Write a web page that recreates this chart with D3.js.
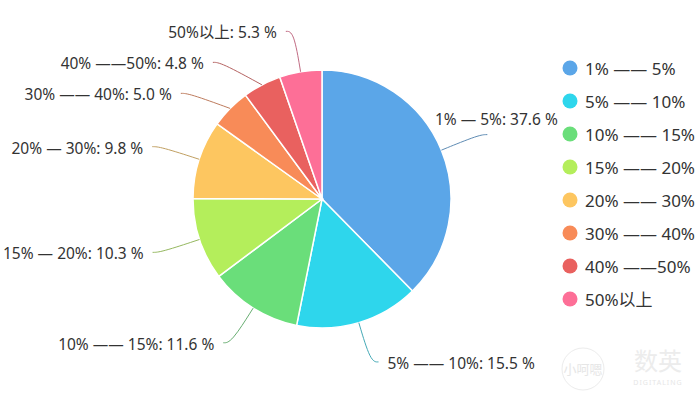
<!DOCTYPE html>
<html>
<head>
<meta charset="utf-8">
<script src="https://cdn.jsdelivr.net/npm/d3@7"></script>
<style>
  body { margin: 0; background: #fff; }
  svg { display: block; font-family: "Microsoft YaHei", "Noto Sans", "Noto Sans CJK SC", sans-serif; }
</style>
</head>
<body>
<svg id="chart" width="700" height="402"></svg>
<script>
const categories = ["1% —— 5%", "5% —— 10%", "10% —— 15%", "15% —— 20%", "20% —— 30%", "30% —— 40%", "40% ——50%", "50%以上"];
const labelNames = ["1% — 5%", "5% —— 10%", "10% —— 15%", "15% — 20%", "20% — 30%", "30% —— 40%", "40% ——50%", "50%以上"];
const shares = [37.6, 15.5, 11.6, 10.3, 9.8, 5.0, 4.8, 5.3];
const colors = ["#5ba6e8", "#2ed6ec", "#6ade7a", "#b4ee5b", "#fdc660", "#f88b58", "#e9615f", "#fd6f97"];

const svg = d3.select("#chart");
const cx = 322, cy = 199, radius = 129;
const labelR = radius + 41;   // elbow radius of leader lines
const tail = 8, gap = 9, minGap = 31;
const legendX = 570, legendY = 68, legendStep = 33;

const pie = d3.pie().sort(null).value(d => d)(shares);
const arc = d3.arc().innerRadius(0).outerRadius(radius);

const g = svg.append("g").attr("transform", `translate(${cx},${cy})`);

g.selectAll("path.slice")
    .data(pie)
    .join("path")
    .attr("class", "slice")
    .attr("d", arc)
    .attr("fill", (d, i) => colors[i])
    .attr("stroke", "#fff")
    .attr("stroke-width", 1.5);

// label layout, pushed apart per side
let labels = pie.map((d, i) => {
    const a = (d.startAngle + d.endAngle) / 2;
    return {
        i: i,
        a: a,
        side: Math.sin(a) >= 0 ? 1 : -1,
        sx: Math.sin(a) * radius,
        sy: -Math.cos(a) * radius,
        y: -Math.cos(a) * labelR
    };
});

[1, -1].forEach(side => {
    const list = labels.filter(l => l.side === side).sort((a, b) => a.y - b.y);
    for (let k = 1; k < list.length; k++) {
        if (list[k].y < list[k - 1].y + minGap) list[k].y = list[k - 1].y + minGap;
    }
});

labels.forEach(l => {
    const dy = Math.min(Math.abs(l.y), labelR);
    l.ex = l.side * Math.sqrt(labelR * labelR - dy * dy);
    l.tx = l.ex + l.side * tail;
});

const leader = d3.line().curve(d3.curveBasis);

g.selectAll("path.leader")
    .data(labels)
    .join("path")
    .attr("class", "leader")
    .attr("fill", "none")
    .attr("stroke", d => d3.interpolateRgb(colors[d.i], "#666")(0.4))
    .attr("stroke-width", 1)
    .attr("d", d => leader([[d.sx, d.sy], [d.ex, d.y], [d.tx, d.y]]));

const texts = g.selectAll("text.label")
    .data(labels)
    .join("text")
    .attr("class", "label")
    .attr("font-size", 15.5)
    .attr("fill", "#333")
    .attr("dominant-baseline", "central")
    .text(d => `${labelNames[d.i]}: ${shares[d.i].toFixed(1)} %`);

texts.each(function (d) {
    const t = d3.select(this);
    const w = this.getComputedTextLength();
    if (d.side > 0 && cx + d.tx + gap + w > legendX - 12) {
        // no room on the right: put it above the end of the line
        t.attr("text-anchor", "middle").attr("x", d.tx + 9).attr("y", d.y - 16);
    } else {
        t.attr("text-anchor", d.side > 0 ? "start" : "end")
            .attr("x", d.tx + d.side * gap)
            .attr("y", d.y + 1);
    }
});

// legend
const legend = svg.append("g")
    .selectAll("g")
    .data(categories)
    .join("g")
    .attr("transform", (d, i) => `translate(${legendX},${legendY + i * legendStep})`);

legend.append("circle")
    .attr("r", 7.5)
    .attr("fill", (d, i) => colors[i]);

legend.append("text")
    .attr("x", 15)
    .attr("dominant-baseline", "central")
    .attr("font-size", 17)
    .attr("fill", "#333")
    .text(d => d);

// faint watermark
const wm = svg.append("g").attr("fill", "none").attr("stroke", "#ececec");
wm.append("circle").attr("cx", 583).attr("cy", 369).attr("r", 21);
svg.append("text").attr("x", 583).attr("y", 374).attr("text-anchor", "middle")
    .attr("font-size", 13).attr("fill", "#e6e6e6").text("小呵嗯");
svg.append("text").attr("x", 658).attr("y", 370).attr("text-anchor", "middle")
    .attr("font-size", 24).attr("fill", "#ececec").text("数英");
svg.append("text").attr("x", 658).attr("y", 385).attr("text-anchor", "middle")
    .attr("font-size", 7).attr("letter-spacing", 1).attr("fill", "#e6e6e6").text("DIGITALING");
</script>
</body>
</html>
